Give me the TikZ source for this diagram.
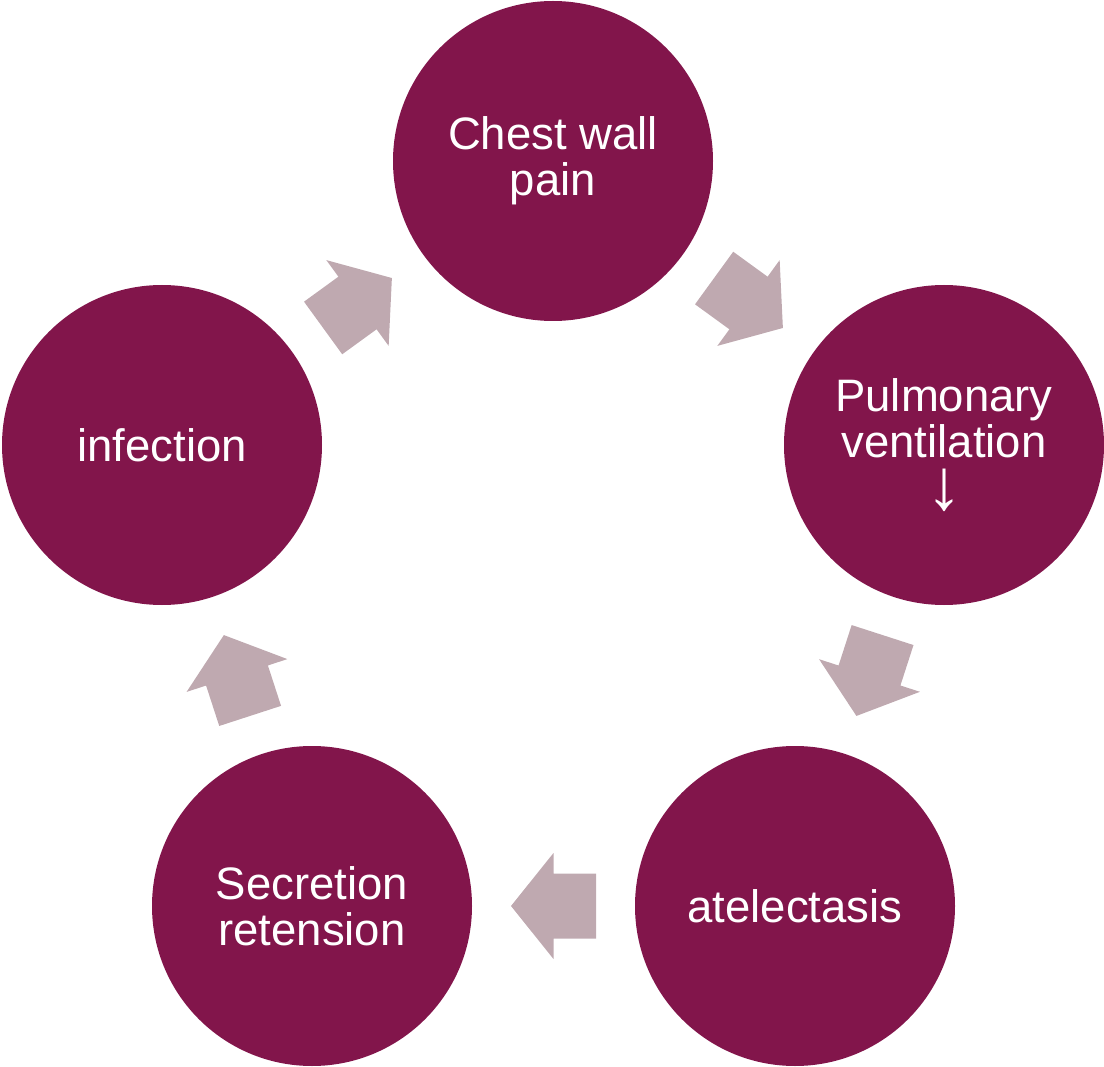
\documentclass[tikz,border=0pt]{standalone}
\usepackage{fontspec}
\setmainfont{Liberation Sans}
\usetikzlibrary{calc}
\definecolor{circfill}{HTML}{82154B}
\definecolor{arrfill}{HTML}{BFA9B0}
\tikzset{
  stage/.style={circle, fill=circfill, minimum size=320pt, inner sep=0pt,
    text=white, align=center, font=\fontsize{45.5}{46}\selectfont},
  barrow/.pic={\fill[arrfill] (-42.5,-32.5) -- (0,-32.5) -- (0,-53) -- (42.5,0)
      -- (0,53) -- (0,32.5) -- (-42.5,32.5) -- cycle;}
}
\begin{document}
\begin{tikzpicture}[x=1pt,y=1pt]
\useasboundingbox (0,0) rectangle (1104,-1067);
\node[stage] (chest) at (553,-161) {Chest wall\\pain};
\node[stage] (pulm) at (944,-445) {Pulmonary\\ventilation\\\raisebox{-6pt}{\fontsize{72}{46}\selectfont ↓}};
\node[stage] (atel) at (795,-906) {atelectasis};
\node[stage] (secr) at (312,-906) {Secretion\\retension};
\node[stage] (inf) at (162,-445) {infection};
\foreach \a/\b in {inf/chest, chest/pulm, pulm/atel, atel/secr, secr/inf}{
  \path let \p1=($(\b)-(\a)$), \n1={atan2(\y1,\x1)} in
    pic[rotate=\n1] at ($(\a)!0.5!(\b)$) {barrow};
}
\end{tikzpicture}
\end{document}
